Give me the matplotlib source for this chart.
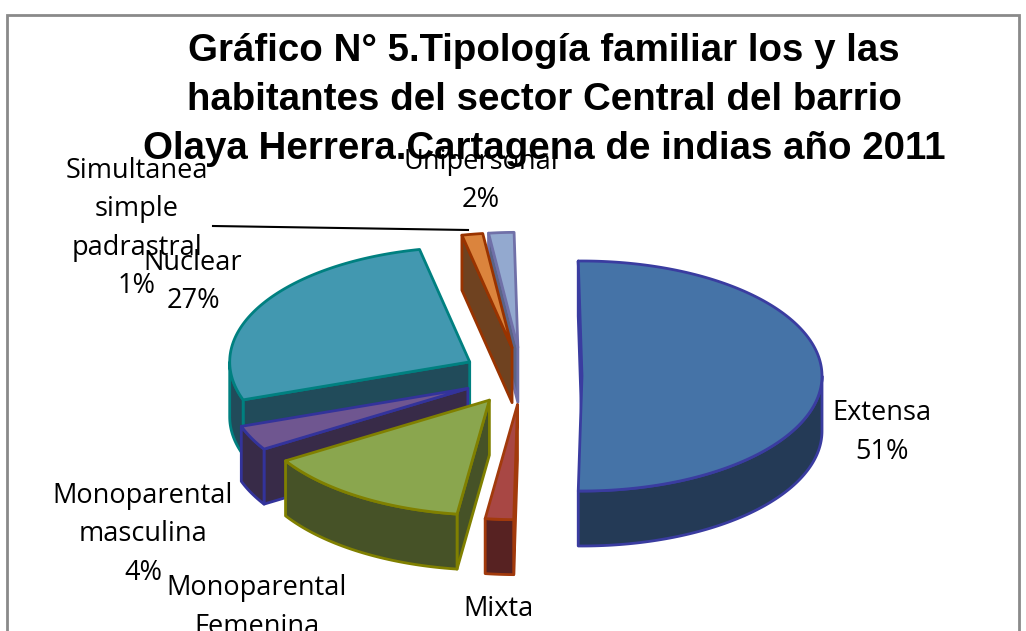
import numpy as np
import matplotlib
matplotlib.use("Agg")
import matplotlib.pyplot as plt
from matplotlib.patches import Polygon, Rectangle

# Slice data, clockwise from 12 o'clock
names = ["Extensa", "Mixta", "Monoparental\nFemenina", "Monoparental\nmasculina",
         "Nuclear", "Simultanea\nsimple\npadrastral", "Unipersonal"]
values = [50.5, 1.9, 14.0, 3.5, 27.0, 1.4, 1.7]

top_colors = ["#4573A7", "#A84744", "#8AA64E", "#6F5690", "#4298B0", "#DB843D", "#93A9CF"]
side_colors = ["#243A56", "#572222", "#465227", "#382B48", "#214B5A", "#6F4220", "#5A6488"]
edge_colors = ["#3A3CA0", "#A23A0C", "#808000", "#33339B", "#008080", "#993300", "#7070A8"]

title = "Gráfico N° 5.Tipología familiar los y las\nhabitantes del sector Central del barrio\nOlaya Herrera.Cartagena de indias año 2011"

# label centres in pixels, same order as names
label_x = [882, 498, 257, 143, 193, 137, 481]
label_y = [432.5, 628.5, 627, 534, 282, 228.5, 181]

# pie geometry in pixels
cx, cy = 522, 376
rx, ry = 240, 115
depth = 55
explode = 0.25
first_angle = -0.9

# draw order, back slices first
draw_order = [6, 5, 4, 3, 2, 1, 0]

fig = plt.figure(figsize=(10.26, 6.31), dpi=100)
ax = fig.add_axes([0, 0, 1, 1])
ax.set_xlim(0, 1026)
ax.set_ylim(631, 0)
ax.axis("off")

# chart frame, bottom edge is cut off by the picture
ax.add_patch(Rectangle((7, 15), 1012, 700, facecolor="white", edgecolor="#8A8A8A", lw=2, zorder=0))

ax.text(544, 100, title, ha="center", va="center", fontsize=27.7, fontweight="bold",
        family="Liberation Sans", linespacing=1.46, zorder=2)


def arc_points(ax0, ay0, a0, a1):
    """Points on the ellipse between two clockwise angles (radians from top)"""
    t = np.linspace(a0, a1, max(int(np.degrees(a1 - a0)), 2) + 1)
    return np.column_stack((ax0 + rx * np.sin(t), ay0 - ry * np.cos(t)))


def add_face(points, facecolor, edgecolor, z):
    ax.add_patch(Polygon(points, closed=True, facecolor=facecolor, edgecolor=edgecolor,
                         lw=2, joinstyle="round", zorder=z))


edges = np.radians(np.cumsum([0] + values) * 3.6 + first_angle)
z = 3

for i in draw_order:
    a0, a1 = edges[i], edges[i + 1]
    mid = (a0 + a1) / 2
    ax0 = cx + explode * rx * np.sin(mid)
    ay0 = cy - explode * ry * np.cos(mid)
    arc = arc_points(ax0, ay0, a0, a1)
    shift = np.array([0, depth])
    apex = np.array([ax0, ay0])

    # cut faces, only the ones turned to the viewer
    if np.sin(a0) < 0:
        add_face([apex, arc[0], arc[0] + shift, apex + shift], side_colors[i], edge_colors[i], z)
    if np.sin(a1) > 0:
        add_face([apex, arc[-1], arc[-1] + shift, apex + shift], side_colors[i], edge_colors[i], z)

    # outer wall, lower half of the ellipse
    lo = max(a0, np.pi / 2) if a0 < 1.5 * np.pi else a0
    hi = min(a1, 1.5 * np.pi)
    if hi > lo:
        wall = arc_points(ax0, ay0, lo, hi)
        add_face(np.vstack((wall, wall[::-1] + shift)), side_colors[i], edge_colors[i], z)

    add_face(np.vstack((apex, arc)), top_colors[i], edge_colors[i], z)
    z += 1

# leader line of the small slice
ax.plot([213, 468], [226, 230], color="black", lw=1.5, zorder=z)

for i, name in enumerate(names):
    label = "{}\n{}%".format(name, int(values[i] + 0.5))
    ax.text(label_x[i], label_y[i], label, ha="center", va="center", fontsize=19.5,
            family="Open Sans", linespacing=1.5, zorder=z + 1)

plt.savefig("out.png", dpi=100)
